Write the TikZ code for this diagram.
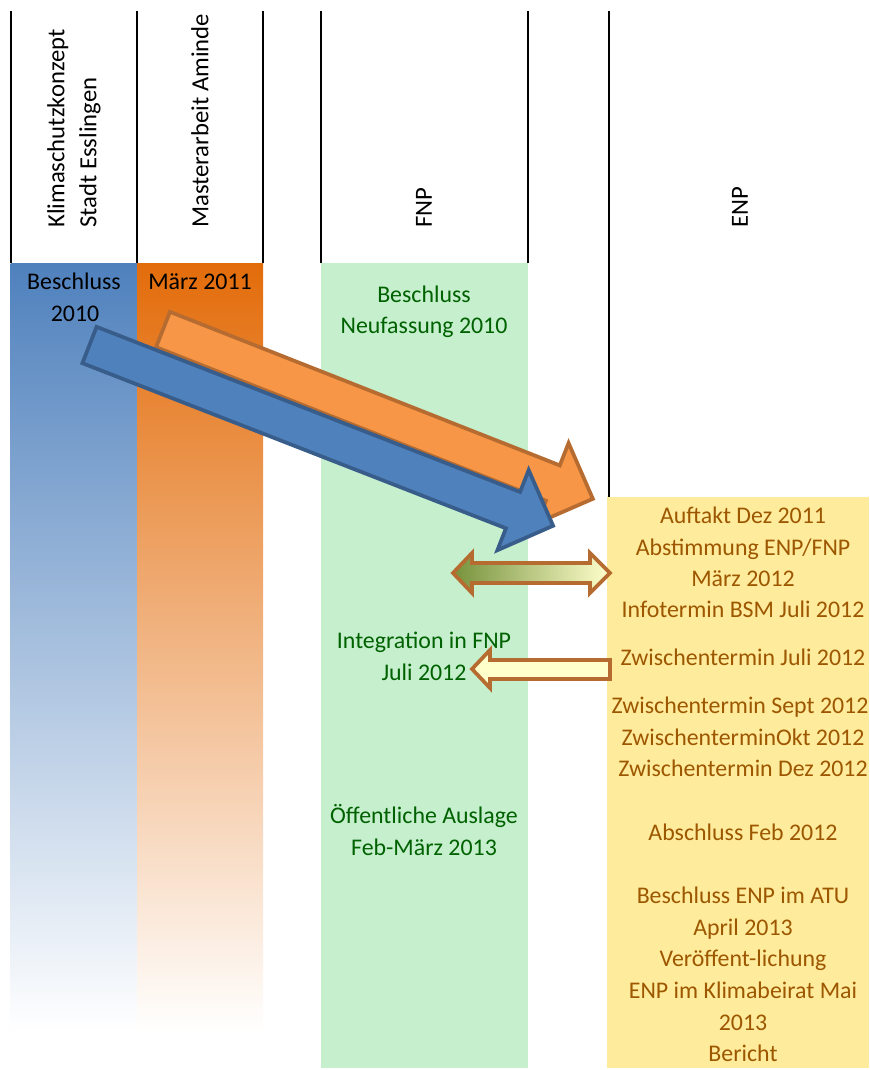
\documentclass[tikz,border=0pt]{standalone}
\usepackage{fontspec}
\setmainfont{Carlito}
\definecolor{blueT}{RGB}{79,129,189}
\definecolor{orangeT}{RGB}{227,108,10}
\definecolor{fnpfill}{RGB}{198,239,206}
\definecolor{enpfill}{RGB}{255,235,156}
\definecolor{fnptext}{RGB}{0,97,0}
\definecolor{enptext}{RGB}{156,87,0}
\definecolor{arrblue}{RGB}{79,129,189}
\definecolor{arrblueD}{RGB}{56,93,138}
\definecolor{arrorange}{RGB}{247,150,70}
\definecolor{arrbrown}{RGB}{182,108,48}
\definecolor{olive}{RGB}{118,146,60}
\definecolor{paleyellow}{RGB}{255,255,204}
\begin{document}
\begin{tikzpicture}[x=0.75pt,y=-0.75pt,
  txt/.style={font=\fontsize{17.9}{23.6}\selectfont, inner sep=0pt, anchor=base},
  hdr/.style={font=\fontsize{18.5}{24}\selectfont, rotate=90, anchor=west, align=left, inner sep=0pt},
  gtxt/.style={txt, text=fnptext},
  ytxt/.style={txt, text=enptext},
  vline/.style={line width=1.5pt, black},
  bluearrow/.style={fill=arrblue, draw=arrblueD, line width=2.8pt, line join=miter},
  orangearrow/.style={fill=arrorange, draw=arrbrown, line width=2.8pt, line join=miter},
  flatarrow/.style={draw=arrbrown, line width=2.8pt, line join=miter}]
\useasboundingbox (0,0) rectangle (869,1070);

% columns
\path[top color=blueT, bottom color=white] (10.5,263) rectangle (137,1032);
\path[top color=orangeT, bottom color=white] (137,263) rectangle (263,1032);
\fill[fnpfill] (321,263) rectangle (528,1068);
\fill[enpfill] (607,497) rectangle (869,1068);

% header borders
\draw[vline] (11,11) -- (11,263);
\draw[vline] (137,11) -- (137,263);
\draw[vline] (263,11) -- (263,263);
\draw[vline] (321,11) -- (321,263);
\draw[vline] (528,11) -- (528,263);
\draw[vline] (609,11) -- (609,497);

% headers
\node[hdr] (h1) at (74,228) {Klimaschutzkonzept\\Stadt Esslingen};
\node[hdr] (h2) at (200,228) {Masterarbeit Aminde};
\node[hdr] (h3) at (424,228) {FNP};
\node[hdr] (h4) at (740,228) {ENP};

% column texts
\node[txt] (b1) at (74,289) {Beschluss};
\node[txt] (b2) at (75,321) {2010};
\node[txt] (o1) at (200,289) {März 2011};

\node[gtxt] (g1) at (424,302) {Beschluss};
\node[gtxt] (g2) at (424,333) {Neufassung 2010};
\node[gtxt] (g3) at (424,648) {Integration in FNP};
\node[gtxt] (g4) at (424,680) {Juli 2012};
\node[gtxt] (g5) at (424,823) {Öffentliche Auslage};
\node[gtxt] (g6) at (424,855) {Feb-März 2013};

\node[ytxt] (y1) at (743,523) {Auftakt Dez 2011};
\node[ytxt] (y2) at (743,555) {Abstimmung ENP/FNP};
\node[ytxt] (y3) at (743,586) {März 2012};
\node[ytxt] (y4) at (743,617) {Infotermin BSM Juli 2012};
\node[ytxt] (y5) at (743,665) {Zwischentermin Juli 2012};
\node[ytxt] (y6) at (740,713) {Zwischentermin Sept 2012};
\node[ytxt] (y7) at (743,745) {ZwischenterminOkt 2012};
\node[ytxt] (y8) at (743,776) {Zwischentermin Dez 2012};
\node[ytxt] (y9) at (743,840) {Abschluss Feb 2012};
\node[ytxt] (y10) at (743,903) {Beschluss ENP im ATU};
\node[ytxt] (y11) at (743,935) {April 2013};
\node[ytxt] (y12) at (743,966) {Veröffent-lichung};
\node[ytxt] (y13) at (743,998) {ENP im Klimabeirat Mai};
\node[ytxt] (y14) at (743,1030) {2013};
\node[ytxt] (y15) at (743,1061) {Bericht};

% orange block arrow
\begin{scope}[shift={(163,329.5)}, rotate=-21.5]
  \draw[orangearrow] (0,-19) -- (419,-19) -- (419,-43) -- (462,0) -- (419,43) -- (419,19) -- (0,19) -- cycle;
\end{scope}
% blue block arrow
\begin{scope}[shift={(89.5,345)}, rotate=-21.3]
  \draw[bluearrow] (0,-19.5) -- (454.6,-19.5) -- (454.6,-43) -- (497.6,0) -- (454.6,43) -- (454.6,19.5) -- (0,19.5) -- cycle;
\end{scope}

% double arrow FNP <-> ENP
\draw[flatarrow, left color=olive, right color=paleyellow]
  (453,573) -- (472,553) -- (472,563) -- (590,563) -- (590,553) -- (610,573)
  -- (590,593) -- (590,583) -- (472,583) -- (472,593) -- cycle;
% arrow ENP -> FNP
\draw[flatarrow, fill=paleyellow]
  (472,669) -- (490,650) -- (490,660) -- (610,660) -- (610,679) -- (490,679) -- (490,688) -- cycle;
\end{tikzpicture}
\end{document}
